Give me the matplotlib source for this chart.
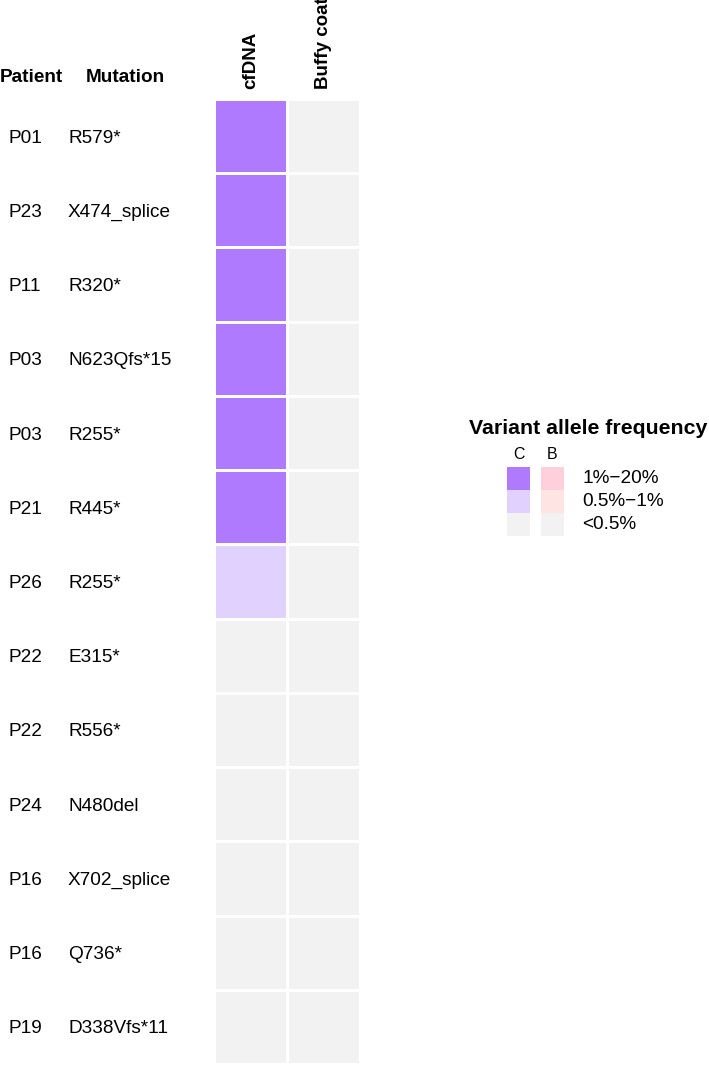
import numpy as np
import matplotlib.pyplot as plt
import matplotlib.transforms as mtransforms
from matplotlib.colors import ListedColormap
from matplotlib.patches import Rectangle

plt.rcParams['font.family'] = ['Liberation Sans', 'DejaVu Sans']

# data
patients = ['P01', 'P23', 'P11', 'P03', 'P03', 'P21', 'P26',
            'P22', 'P22', 'P24', 'P16', 'P16', 'P19']
mutations = ['R579*', 'X474_splice', 'R320*', 'N623Qfs*15', 'R255*', 'R445*', 'R255*',
             'E315*', 'R556*', 'N480del', 'X702_splice', 'Q736*', 'D338Vfs*11']
samples = ['cfDNA', 'Buffy coat']
# VAF class: 0 = <0.5%, 1 = 0.5%-1%, 2 = 1%-20%
cfdna_level = [2, 2, 2, 2, 2, 2, 1, 0, 0, 0, 0, 0, 0]
buffy_level = [0, 0, 0, 0, 0, 0, 0, 0, 0, 0, 0, 0, 0]
legend_labels = ['1%\u221220%', '0.5%\u22121%', '<0.5%']

cf_colors = ['#F2F2F2', '#E0D1FF', '#B07AFF']
bc_colors = ['#F2F2F2', '#FFE4E4', '#FFD0DB']

W, H = 709, 1065
fig = plt.figure(figsize=(W / 100, H / 100), dpi=100)

# heatmap axes
ax = fig.add_axes([214 / W, (H - 1064) / H, 146 / W, 965 / H])
n = len(patients)
# encode cfDNA as 0..2, buffy coat as 3..5
mat = np.column_stack([cfdna_level, np.array(buffy_level) + 3])
cmap = ListedColormap(cf_colors + bc_colors)
ax.pcolormesh(np.arange(3), np.arange(n + 1), mat, cmap=cmap, vmin=-0.5, vmax=5.5,
              edgecolors='white', linewidth=2)
ax.set_xlim(0, 2)
ax.set_ylim(n, 0)
for s in ax.spines.values():
    s.set_visible(False)
ax.set_yticks([])
ax.xaxis.tick_top()
ax.set_xticks(np.arange(len(samples)) + 0.5)
ax.set_xticklabels(samples, rotation=90, fontsize=13.5, fontweight='bold', va='bottom')
ax.tick_params(axis='x', length=0, pad=7)

# row labels
tr = mtransforms.blended_transform_factory(fig.transFigure, ax.transData)
for i, (p, m) in enumerate(zip(patients, mutations)):
    ax.text(8 / W, i + 0.5, p, transform=tr, fontsize=13.7, va='center_baseline', ha='left')
    ax.text(68 / W, i + 0.5, m, transform=tr, fontsize=13.7, va='center_baseline', ha='left')
fig.text(0 / W, 1 - 78 / H, 'Patient', fontsize=13.7, fontweight='bold', va='center', ha='left')
fig.text(86 / W, 1 - 78 / H, 'Mutation', fontsize=13.7, fontweight='bold', va='center', ha='left')

# legend
fig.text(469 / W, 1 - 428 / H, 'Variant allele frequency', fontsize=15.3,
         fontweight='bold', va='center', ha='left')
lax = fig.add_axes([507 / W, (H - 536) / H, 160 / W, 69 / H])
lax.set_xlim(0, 160)
lax.set_ylim(3, 0)
lax.axis('off')
for r in range(3):
    lax.add_patch(Rectangle((0, r), 23, 1, color=cf_colors[2 - r], lw=0))
    lax.add_patch(Rectangle((34, r), 23, 1, color=bc_colors[2 - r], lw=0))
    lax.text(75, r + 0.5, legend_labels[r], fontsize=13.7, va='center', ha='left')
lax.text(11.5, -0.55, 'C', fontsize=11.5, ha='center', va='center')
lax.text(45.5, -0.55, 'B', fontsize=11.5, ha='center', va='center')

fig.savefig('out.png', dpi=100)
